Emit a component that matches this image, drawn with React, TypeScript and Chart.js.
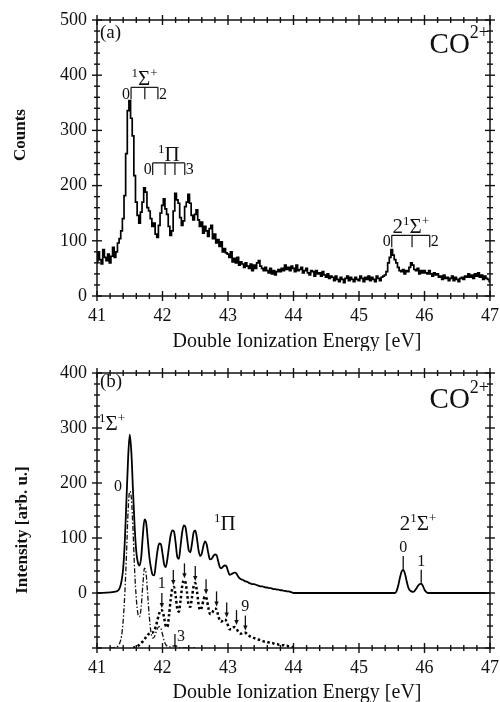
import React, { useEffect, useRef } from "react";
import { Chart, registerables } from "chart.js";

Chart.register(...registerables);

const FONT = '"Liberation Serif", "Times New Roman", serif';
const INK = "#111";

// ---------- (a) measured spectrum: counts in 0.025 eV bins from 41.000 eV ----------
const COUNT_START = 41.0;
const COUNT_STEP = 0.025;
const counts = [
  62, 80, 66, 58, 84, 70, 64, 76,
  60, 72, 88, 70, 80, 96, 104, 118,
  140, 182, 258, 336, 354, 322, 290, 218,
  170, 146, 132, 152, 170, 196, 188, 160,
  154, 140, 126, 132, 112, 106, 128, 150,
  164, 176, 158, 148, 126, 110, 118, 154,
  186, 174, 168, 142, 128, 136, 162, 170,
  184, 168, 146, 138, 148, 156, 138, 126,
  134, 114, 126, 118, 108, 122, 128, 104,
  112, 96, 102, 90, 98, 80, 86, 78,
  76, 70, 80, 62, 68, 60, 70, 56,
  62, 58, 52, 60, 54, 50, 58, 46,
  56, 50, 60, 64, 54, 50, 46, 52,
  46, 42, 50, 40, 46, 38, 44, 48,
  44, 50, 46, 56, 48, 52, 46, 54,
  50, 44, 56, 46, 48, 52, 42, 46,
  50, 42, 38, 46, 44, 36, 46, 40,
  42, 36, 44, 38, 34, 40, 32, 36,
  34, 28, 36, 30, 26, 34, 30, 24,
  32, 36, 28, 34, 30, 26, 34, 30,
  28, 36, 32, 26, 34, 30, 36, 28,
  34, 30, 26, 36, 32, 28, 34, 36,
  38, 44, 60, 70, 84, 74, 66, 60,
  52, 46, 44, 48, 40, 46, 44, 52,
  60, 56, 48, 46, 50, 40, 46, 42,
  46, 42, 40, 46, 40, 36, 42, 38,
  40, 34, 36, 30, 38, 32, 34, 28,
  32, 36, 28, 34, 30, 26, 32, 34,
  30, 36, 34, 40, 34, 38, 32, 40,
  36, 42, 34, 38, 30, 36, 32, 30,
  26,
];

// vibrational level positions drawn as brackets above the measured peaks (eV)
const sigmaLevels = [41.52, 41.73, 41.93];
const piLevels = [41.85, 42.04, 42.19, 42.34];
const sigma2Levels = [45.5, 45.81, 46.08];
// bracket heights (counts)
const sigmaBracketAt = 378;
const piBracketAt = 241;
const sigma2BracketAt = 110;

// ---------- (b) simulated spectrum, 0.025 eV steps ----------
const SIM_START = 41.3;
const SIM_STEP = 0.025;
const simTotal = [
  3, 5, 10, 22, 45, 95, 170, 245,
  288, 255, 185, 120, 75, 55, 50, 65,
  105, 134, 128, 97, 65, 45, 33, 32,
  55, 78, 90, 89, 72, 52, 47, 62,
  85, 105, 114, 112, 92, 66, 62, 85,
  110, 123, 120, 100, 78, 74, 90, 110,
  114, 100, 78, 67, 72, 86, 94, 88,
  72, 61, 62, 67, 70, 69, 58, 47,
  45, 48, 50, 49, 40, 33, 34, 36,
  37, 36, 31, 27, 25, 24, 22, 21,
  20, 18, 17, 16, 16, 15, 14, 13,
  12, 12, 11, 10, 10, 9, 9, 8,
  7, 7, 6, 6, 5, 5, 4, 4,
  3, 3, 2, 1, 0,
];

const SIGMA2_START = 45.55;
const sigma2Total = [
  0, 4, 14, 28, 39, 42, 36, 23, 11, 5, 3, 2, 4, 8, 13, 16, 17, 13, 6, 2, 0,
];

// 1Σ+ component, drawn offset to -100
const SIGMA_COMP_START = 41.2;
const sigmaComponent = [
  -100, -100, -100, -99,
  -98, -96, -90, -78, -50, 0, 70, 150,
  185, 172, 115, 40, -10, -38, -43, -25,
  15, 45, 35, -5, -45, -72, -82, -80,
  -72, -64, -61, -64, -75, -87, -94, -97,
  -98, -98, -97, -96, -96, -97, -99, -100,
  -100, -100, -100, -100, -100, -100, -100, -100,
  -100,
];

// 1Π component, drawn offset to -100
const PI_COMP_START = 41.55;
const piComponent = [
  -100, -99, -98, -96, -94, -91, -88, -84,
  -80, -76, -74, -73, -72, -68, -60, -48,
  -37, -31, -33, -45, -60, -62, -40, -12,
  8, 11, -5, -28, -34, -14, 12, 23,
  20, 0, -22, -25, -8, 12, 18, 4,
  -20, -31, -26, -13, -6, -11, -27, -38,
  -38, -32, -28, -30, -41, -50, -52, -49,
  -48, -51, -59, -66, -66, -63, -62, -64,
  -69, -73, -74, -73, -72, -73, -76, -78,
  -80, -81, -82, -83, -84, -85, -86, -87,
  -88, -88, -89, -90, -91, -91, -92, -93,
  -93, -94, -94, -95, -95, -96, -96, -97,
  -97, -98, -99,
];

// 1Π vibrational peaks v = 1..9 (eV) and the component height at each
const piMarkEnergy = [41.99, 42.165, 42.335, 42.5, 42.665, 42.825, 42.98, 43.13, 43.265];
const piMarkTop = [-31, 11, 23, 18, -6, -28, -48, -62, -72];
// 2 1Σ+ peaks v = 0, 1
const sigma2MarkEnergy = [45.675, 45.95];
const sigma2MarkTop = [42, 17];
const sigma2MarkLabel = ["0", "1"];

const X_MIN = 41;
const X_MAX = 47;
const xTickValues = [41, 42, 43, 44, 45, 46, 47];

type Pt = { x: number; y: number };
const toPoints = (start: number, step: number, values: number[]): Pt[] =>
  values.map((y, i) => ({ x: Math.round((start + i * step) * 1000) / 1000, y }));

type Part = { t: string; s: number; r?: number; w?: string };

function drawRich(ctx: CanvasRenderingContext2D, parts: Part[], x: number, y: number, align: "left" | "center" | "right") {
  ctx.textBaseline = "alphabetic";
  ctx.textAlign = "left";
  const widths = parts.map((p) => {
    ctx.font = `${p.w ?? ""} ${p.s}px ${FONT}`;
    return ctx.measureText(p.t).width;
  });
  const total = widths.reduce((a, b) => a + b, 0);
  let cx = align === "left" ? x : align === "center" ? x - total / 2 : x - total;
  parts.forEach((p, i) => {
    ctx.font = `${p.w ?? ""} ${p.s}px ${FONT}`;
    ctx.fillText(p.t, cx, y - (p.r ?? 0));
    cx += widths[i];
  });
}

function text(ctx: CanvasRenderingContext2D, t: string, x: number, y: number, size: number, align: CanvasTextAlign = "center", weight = "") {
  ctx.font = `${weight} ${size}px ${FONT}`;
  ctx.textAlign = align;
  ctx.textBaseline = "middle";
  ctx.fillText(t, x, y);
}

function line(ctx: CanvasRenderingContext2D, x1: number, y1: number, x2: number, y2: number) {
  ctx.beginPath();
  ctx.moveTo(x1, y1);
  ctx.lineTo(x2, y2);
  ctx.stroke();
}

const SIGMA_LABEL: Part[] = [
  { t: "1", s: 13, r: 8 },
  { t: "Σ", s: 21 },
  { t: "+", s: 13, r: 8 },
];
const PI_LABEL: Part[] = [
  { t: "1", s: 13, r: 8 },
  { t: "Π", s: 21 },
];
const SIGMA2_LABEL: Part[] = [
  { t: "2", s: 21 },
  { t: "1", s: 13, r: 8 },
  { t: "Σ", s: 21 },
  { t: "+", s: 13, r: 8 },
];
const SPECIES_LABEL: Part[] = [
  { t: "CO", s: 29 },
  { t: "2", s: 18, r: 15 },
  { t: "+", s: 18, r: 15 },
];

type Scale = { getPixelForValue: (v: number) => number };

function drawBracket(
  ctx: CanvasRenderingContext2D,
  sx: Scale,
  sy: Scale,
  levels: number[],
  at: number,
  first: string,
  last: string,
  label: Part[]
) {
  const xs = levels.map((e) => sx.getPixelForValue(e));
  const y = sy.getPixelForValue(at);
  ctx.lineWidth = 1.2;
  line(ctx, xs[0], y, xs[xs.length - 1], y);
  xs.forEach((px) => line(ctx, px, y, px, y + 12));
  text(ctx, first, xs[0] - 1, y + 7, 16, "right");
  text(ctx, last, xs[xs.length - 1] + 1, y + 7, 16, "left");
  drawRich(ctx, label, (xs[0] + xs[xs.length - 1]) / 2, y - 2, "center");
}

type Deco = {
  tag: string;
  tagDy: number;
  coDy: number;
  yTitle: string;
  yTitleX: number;
  yTitleY: number;
  extra: (ctx: CanvasRenderingContext2D, sx: Scale, sy: Scale) => void;
};

function framePlugin(deco: Deco) {
  return {
    id: "frameDeco",
    afterDatasetsDraw(chart: any) {
      const { ctx, chartArea: a, scales } = chart;
      const sx = scales.x;
      const sy = scales.y;
      ctx.save();
      ctx.strokeStyle = INK;
      ctx.fillStyle = INK;
      ctx.lineWidth = 1.5;
      ctx.strokeRect(a.left, a.top, a.right - a.left, a.bottom - a.top);

      // ticks on all four sides: majors every 1 eV / 100, minors every 0.2 eV / 20
      ctx.lineWidth = 1.4;
      for (let i = 0; i <= (X_MAX - X_MIN) * 5; i++) {
        const px = sx.getPixelForValue(X_MIN + i * 0.2);
        const h = i % 5 === 0 ? 5 : 3;
        line(ctx, px, a.bottom - h, px, a.bottom + h);
        line(ctx, px, a.top - h, px, a.top + h);
      }
      const n = Math.round((sy.max - sy.min) / 20);
      for (let i = 0; i <= n; i++) {
        const v = sy.min + i * 20;
        const py = sy.getPixelForValue(v);
        const h = v % 100 === 0 ? 5 : 3;
        line(ctx, a.left - h, py, a.left + h, py);
        line(ctx, a.right - h, py, a.right + h, py);
      }

      // panel tag and species
      text(ctx, deco.tag, a.left + 3, a.top + deco.tagDy, 19, "left");
      drawRich(ctx, SPECIES_LABEL, a.right - 1, a.top + deco.coDy, "right");

      // axis titles
      text(ctx, "Double Ionization Energy [eV]", 297, 342, 20, "center");
      ctx.save();
      ctx.translate(deco.yTitleX, deco.yTitleY);
      ctx.rotate(-Math.PI / 2);
      text(ctx, deco.yTitle, 0, 0, 17, "center", "bold");
      ctx.restore();

      deco.extra(ctx, sx, sy);
      ctx.restore();
    },
  };
}

function scalesFor(yMin: number, yMax: number, xHeight: number) {
  return {
    x: {
      type: "linear",
      min: X_MIN,
      max: X_MAX,
      grid: { display: false, drawTicks: false },
      border: { display: false },
      afterBuildTicks: (s: any) => {
        s.ticks = xTickValues.map((value) => ({ value }));
      },
      ticks: {
        padding: 9,
        color: INK,
        maxRotation: 0,
        autoSkip: false,
        font: { family: FONT, size: 18 },
      },
      afterFit: (s: any) => {
        s.height = xHeight;
        s.paddingLeft = 0;
        s.paddingRight = 0;
      },
    },
    y: {
      type: "linear",
      min: yMin,
      max: yMax,
      grid: { display: false, drawTicks: false },
      border: { display: false },
      ticks: {
        stepSize: 100,
        padding: 10,
        color: INK,
        font: { family: FONT, size: 18 },
        callback: (v: number) => (v < 0 ? null : String(v)),
      },
      afterFit: (s: any) => {
        s.width = 97;
        s.paddingTop = 0;
        s.paddingBottom = 0;
      },
    },
  };
}

const commonOptions = {
  responsive: false,
  animation: false,
  devicePixelRatio: 1,
  events: [],
  plugins: { legend: { display: false }, tooltip: { enabled: false } },
  elements: { point: { radius: 0 } },
};

export default function App() {
  const refA = useRef<HTMLCanvasElement>(null);
  const refB = useRef<HTMLCanvasElement>(null);

  useEffect(() => {
    const decoA: Deco = {
      tag: "(a)",
      tagDy: 13,
      coDy: 33,
      yTitle: "Counts",
      yTitleX: 21,
      yTitleY: 135,
      extra: (ctx, sx, sy) => {
        drawBracket(ctx, sx, sy, sigmaLevels, sigmaBracketAt, "0", "2", SIGMA_LABEL);
        drawBracket(ctx, sx, sy, piLevels, piBracketAt, "0", "3", PI_LABEL);
        drawBracket(ctx, sx, sy, sigma2Levels, sigma2BracketAt, "0", "2", SIGMA2_LABEL);
      },
    };

    const decoB: Deco = {
      tag: "(b)",
      tagDy: 9,
      coDy: 35,
      yTitle: "Intensity [arb. u.]",
      yTitleX: 23,
      yTitleY: 179,
      extra: (ctx, sx, sy) => {
        const X = (e: number) => sx.getPixelForValue(e);
        const Y = (v: number) => sy.getPixelForValue(v);
        drawRich(ctx, SIGMA_LABEL, X(41.23), Y(296), "center");
        text(ctx, "0", X(41.32), Y(193), 16);
        drawRich(ctx, PI_LABEL, X(42.95), Y(115), "center");
        drawRich(ctx, SIGMA2_LABEL, X(45.9), Y(115), "center");

        ctx.lineWidth = 1.3;
        // 2 1Σ+ v = 0, 1
        sigma2MarkEnergy.forEach((e, i) => {
          const px = X(e);
          const yb = Y(sigma2MarkTop[i]) - 1;
          line(ctx, px, yb, px, yb - 13);
          text(ctx, sigma2MarkLabel[i], px, yb - 21, 16);
        });
        // 1Π v = 1..9 arrows
        piMarkEnergy.forEach((e, i) => {
          const px = X(e);
          const yb = Y(piMarkTop[i]) - 2;
          line(ctx, px, yb - 3, px, yb - 15);
          ctx.beginPath();
          ctx.moveTo(px - 2.2, yb - 5);
          ctx.lineTo(px + 2.2, yb - 5);
          ctx.lineTo(px, yb);
          ctx.closePath();
          ctx.fill();
          if (i === 0) text(ctx, "1", px, yb - 24, 16);
          if (i === piMarkEnergy.length - 1) text(ctx, "9", px, yb - 24, 16);
        });
        // 1Σ+ v = 3
        const p3 = X(42.19);
        const b3 = Y(-100);
        line(ctx, p3, b3 - 1, p3, b3 - 14);
        text(ctx, "3", p3 + 2, b3 - 11, 16, "left");
      },
    };

    const chartA = new Chart(refA.current!, {
      type: "line",
      data: {
        datasets: [
          {
            data: toPoints(COUNT_START, COUNT_STEP, counts),
            borderColor: "#000",
            borderWidth: 1.7,
            stepped: "middle",
            pointRadius: 0,
          },
        ],
      },
      options: {
        ...commonOptions,
        layout: { padding: { top: 20, right: 10, left: 0, bottom: 0 } },
        scales: scalesFor(0, 500, 55),
      } as any,
      plugins: [framePlugin(decoA)],
    });

    const totalPoints: Pt[] = [
      { x: X_MIN, y: 0 },
      ...toPoints(SIM_START, SIM_STEP, simTotal),
      ...toPoints(SIGMA2_START, SIM_STEP, sigma2Total),
      { x: X_MAX, y: 0 },
    ];

    const chartB = new Chart(refB.current!, {
      type: "line",
      data: {
        datasets: [
          {
            data: toPoints(SIGMA_COMP_START, SIM_STEP, sigmaComponent),
            borderColor: "#111",
            borderWidth: 1.3,
            borderDash: [5, 2, 1.5, 2],
            pointRadius: 0,
            cubicInterpolationMode: "monotone",
          },
          {
            data: toPoints(PI_COMP_START, SIM_STEP, piComponent),
            borderColor: "#000",
            borderWidth: 2.5,
            borderDash: [2.5, 2.5],
            pointRadius: 0,
            cubicInterpolationMode: "monotone",
          },
          {
            data: totalPoints,
            borderColor: "#000",
            borderWidth: 1.8,
            pointRadius: 0,
            cubicInterpolationMode: "monotone",
          },
        ],
      },
      options: {
        ...commonOptions,
        layout: { padding: { top: 22, right: 10, left: 0, bottom: 0 } },
        scales: scalesFor(-100, 400, 54),
      } as any,
      plugins: [framePlugin(decoB)],
    });

    return () => {
      chartA.destroy();
      chartB.destroy();
    };
  }, []);

  return (
    <div style={{ position: "absolute", left: 0, top: 0, width: 500, height: 702, background: "#fff" }}>
      <canvas ref={refA} width={500} height={351} style={{ position: "absolute", left: 0, top: 0 }} />
      <canvas ref={refB} width={500} height={351} style={{ position: "absolute", left: 0, top: 351 }} />
    </div>
  );
}
